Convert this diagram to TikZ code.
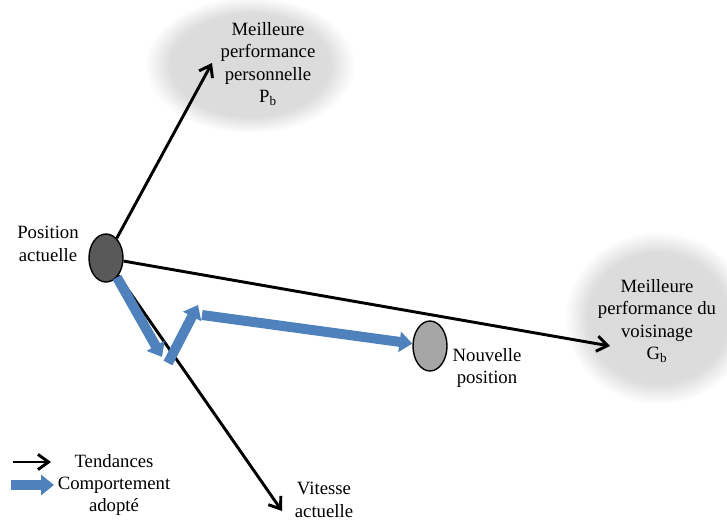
\documentclass[tikz,border=0pt]{standalone}
\usepackage{fontspec}
\setmainfont{Liberation Serif}
\usetikzlibrary{arrows.meta,shapes.geometric}
\definecolor{blau}{RGB}{79,129,189}
\pgfdeclareradialshading{wolke}{\pgfpoint{0bp}{0bp}}{color(0bp)=(gray!29); color(19bp)=(gray!27); color(25bp)=(white); color(50bp)=(white)}
\begin{document}
\begin{tikzpicture}[x=0.03cm,y=-0.03cm,font=\fontsize{16}{19}\selectfont,
	tend/.style={-{Straight Barb[length=9pt,width=13pt]},line width=2.5pt},
	comp/.style={-{Triangle[length=11pt,width=17pt]},line width=8.5pt,blau},
	wolke/.style={ellipse,shading=wolke,inner sep=0pt},
	punkt/.style={draw,ellipse,line width=1.2pt,inner sep=0pt,minimum width=1.02cm}]
	%\draw[step=10,gray!15] (0,0) grid (727,521); \draw[step=50,gray!30] (0,0) grid (727,521); %Hilfsgitter
	\useasboundingbox (0,0) rectangle (727,521);
	\node[wolke,minimum width=6.3cm,minimum height=4.1cm] (Pb) at (250,65) {}; \node[wolke,minimum width=5.6cm,minimum height=5.2cm] (Gb) at (658,318) {};
	\node[align=center] (PbT) at (268,64) {Meilleure\\performance\\personnelle\\P\textsubscript{b}}; \node[align=center] (GbT) at (657,321) {Meilleure\\performance du\\voisinage\\G\textsubscript{b}};
	
	\node[punkt,fill=black!65,minimum height=1.44cm] (A) at (106,258) {}; \node[align=center] (AT) at (48,244) {Position\\actuelle};
	\node[punkt,fill=black!35,minimum height=1.5cm] (N) at (430,346) {}; \node[align=center] (NT) at (487,368) {Nouvelle\\position};
	\node[align=center] (VT) at (324,500) {Vitesse\\actuelle};
	
	\coordinate (pb) at (212,63); \coordinate (gb) at (610,346); \coordinate (v) at (282,511);
	\draw[tend] (A) -- (pb); \draw[tend] (A) -- (gb); \draw[tend] (A) -- (v);
	
	\coordinate (k1) at (162,357); \coordinate (k2) at (168,363); \coordinate (k3) at (198,305); \coordinate (k4) at (202,315);
	\draw[comp] (A) -- (k1); \draw[comp] (k2) -- (k3); \draw[comp] (k4) -- (N);
	
	% Legende
	\coordinate (t1) at (13,462); \coordinate (t2) at (51,462); \coordinate (c1) at (11,485); \coordinate (c2) at (54,485);
	\draw[tend] (t1) -- (t2); \draw[comp] (c1) -- (c2);
	\node (T) at (114,461) {Tendances}; \node[align=center] (C) at (114,496) {Comportement\\adopté};
\end{tikzpicture}
\end{document}
